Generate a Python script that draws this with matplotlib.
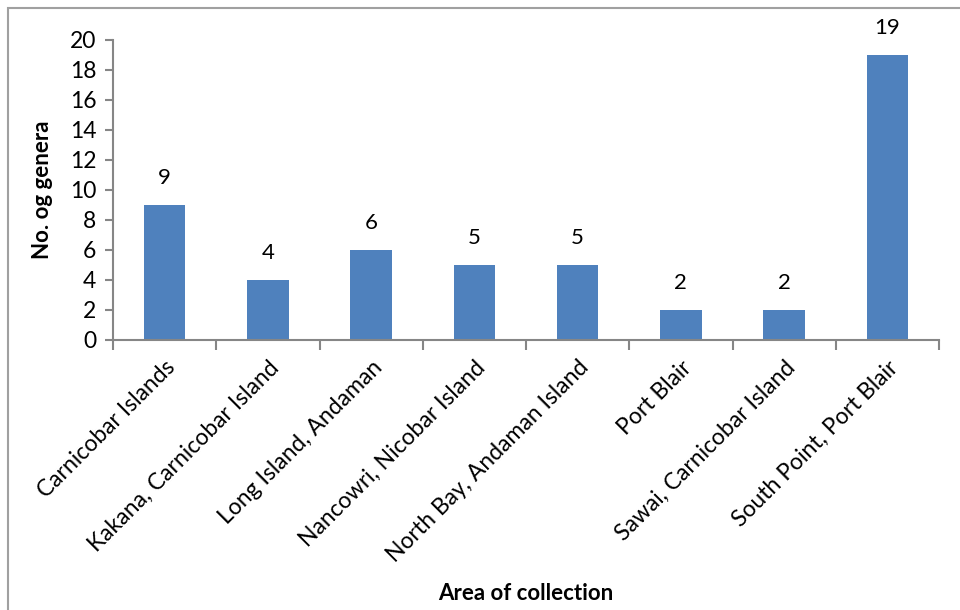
import matplotlib.pyplot as plt
from matplotlib.patches import Rectangle

areas = ['Carnicobar Islands', 'Kakana, Carnicobar Island', 'Long Island, Andaman',
         'Nancowri, Nicobar Island', 'North Bay, Andaman Island', 'Port Blair',
         'Sawai, Carnicobar Island', 'South Point, Port Blair']
genera = [9, 4, 6, 5, 5, 2, 2, 19]
yticks = [0, 2, 4, 6, 8, 10, 12, 14, 16, 18, 20]

plt.rcParams['font.family'] = ['Lato', 'DejaVu Sans']
axis_grey = '#868686'

fig = plt.figure(figsize=(9.6, 6.1), dpi=100)
# chart border (left/top visible like the original screenshot)
fig.patches.append(Rectangle((8 / 960, -0.1), 1.1, 1 - 8 / 610 + 0.1, transform=fig.transFigure,
                             fill=False, edgecolor='#a0a0a0', linewidth=1.5))

ax = fig.add_axes([113 / 960, 1 - 340 / 610, (939 - 113) / 960, 300 / 610])
x = list(range(len(areas)))
bars = ax.bar(x, genera, width=0.4, color='#4F81BD')
for xi, v in zip(x, genera):
    ax.annotate(str(v), (xi, v), xytext=(0, 12), textcoords='offset points',
                ha='center', va='bottom', fontsize=16)

ax.set_xlim(-0.5, len(areas) - 0.5)
ax.set_ylim(0, 20)
ax.set_yticks(yticks)
ax.set_xticks(x)
ax.set_xticklabels(areas, rotation=45, ha='right', rotation_mode='anchor', fontsize=16.5)
ax.tick_params(axis='x', length=0, pad=12)
ax.set_xticks([i - 0.5 for i in range(len(areas) + 1)], minor=True)
ax.tick_params(axis='x', which='minor', length=7, color=axis_grey, width=1.5)
ax.tick_params(axis='y', length=6, color=axis_grey, width=1.5, labelsize=16.5, pad=6)

for side in ['top', 'right']:
    ax.spines[side].set_visible(False)
for side in ['left', 'bottom']:
    ax.spines[side].set_color(axis_grey)
    ax.spines[side].set_linewidth(1.5)

ax.set_ylabel('No. og genera', fontsize=16, fontweight='bold', labelpad=12)
fig.text(526 / 960, 1 - 593 / 610, 'Area of collection', ha='center', va='center',
         fontsize=16, fontweight='bold')

fig.savefig('out.png', dpi=100)
